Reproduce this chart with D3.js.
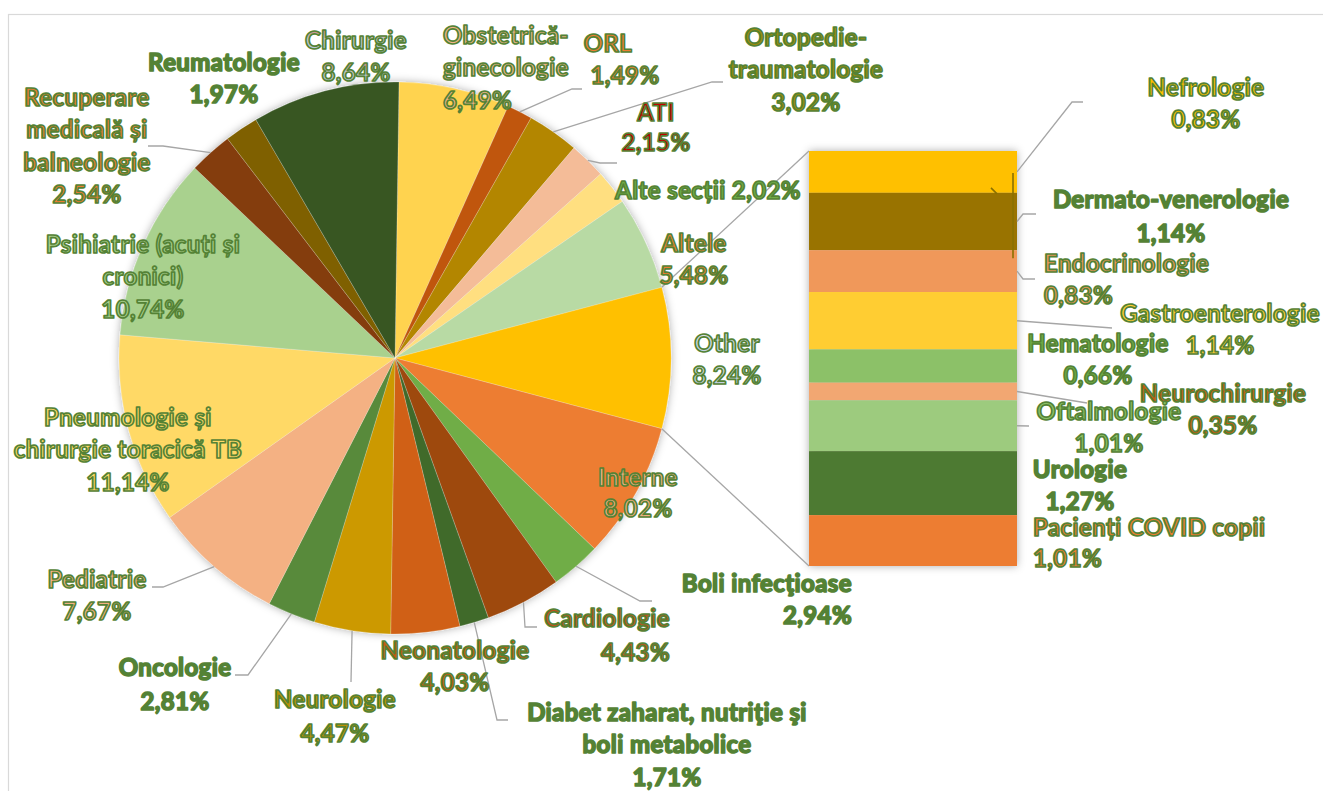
<!DOCTYPE html>
<html><head><meta charset="utf-8">
<script src="https://cdn.jsdelivr.net/npm/d3@7"></script>
<style>
html,body{margin:0;padding:0;background:#fff;}
svg{display:block;}
</style></head>
<body>
<svg id="chart" width="1323" height="791"></svg>
<script>
// ---- DATA ----
const pieCategories = ["Obstetrică-ginecologie","ORL","Ortopedie-traumatologie","ATI","Alte secții","Altele","Other","Interne","Boli infecţioase","Cardiologie","Diabet zaharat, nutriţie şi boli metabolice","Neonatologie","Neurologie","Oncologie","Pediatrie","Pneumologie și chirurgie toracică TB","Psihiatrie (acuți și cronici)","Recuperare medicală și balneologie","Reumatologie","Chirurgie"];
const pieValues = [6.49,1.49,3.02,2.15,2.02,5.48,8.24,8.02,2.94,4.43,1.71,4.03,4.47,2.81,7.67,11.14,10.74,2.54,1.97,8.64];
const pieLabelsText = ["6,49%","1,49%","3,02%","2,15%","2,02%","5,48%","8,24%","8,02%","2,94%","4,43%","1,71%","4,03%","4,47%","2,81%","7,67%","11,14%","10,74%","2,54%","1,97%","8,64%"];
const pieColors = ["#FFD34F","#C0570F","#B38600","#F4BC98","#FFDF80","#B8DAA4","#FFC000","#ED7D31","#70AD47","#9E480E","#416A2C","#D06012","#CC9900","#588A3A","#F4B183","#FFD966","#A9D18E","#843C0C","#7F6000","#375623"];
const pieLabelFills = ["#F0B488","#ED7D31","#9C8A0C","#C00000","#70AD47","#ED7D31","url(#gradOther)","#F4B183","#548235","#C0501E","#548235","#C55A11","#BF9000","#548235","#F4B183","#FFD966","#A9D18E","#ED7D31","#548235","url(#gradChir)"];

const barCategories = ["Nefrologie","Dermato-venerologie","Endocrinologie","Gastroenterologie","Hematologie","Neurochirurgie","Oftalmologie","Urologie","Pacienți COVID copii"];
const barValues = [0.83,1.14,0.83,1.14,0.66,0.35,1.01,1.27,1.01];
const barLabelsText = ["0,83%","1,14%","0,83%","1,14%","0,66%","0,35%","1,01%","1,27%","1,01%"];
const barColors = ["#FFC000","#997300","#F0985A","#FFCD33","#8CC168","#F2A772","#9DCB7E","#4E7A30","#ED7D31"];
const barLabelFills = ["#FFC000","#548235","#F0985A","#FFCD33","#70AD47","#C55A11","#8CC168","#548235","#ED7D31"];
const otherCategory = "Other";

// ---- LAYOUT (positions only) ----
const pieLayout = {
  "Obstetrică-ginecologie": {lines:["Obstetrică-","ginecologie"], x:443, y:35, anchor:"start"},
  "ORL": {lines:["ORL"], xs:[608,625], y:43, leader:[[572,89],[582,89]]},
  "Ortopedie-traumatologie": {lines:["Ortopedie-","traumatologie"], x:806, y:37, leader:[[712,82],[723,82]]},
  "ATI": {lines:["ATI"], x:656, y:112, gap:30, leader:[[600,163],[617,163]]},
  "Alte secții": {lines:["Alte secții"], x:708, y:190, single:true},
  "Altele": {lines:["Altele"], x:694, y:243},
  "Other": {lines:["Other"], x:727, y:343},
  "Interne": {lines:["Interne"], x:638, y:477, gap:31},
  "Boli infecţioase": {lines:["Boli infecţioase"], x:852, y:583, anchor:"end", leader:[[640,601],[652,601]]},
  "Cardiologie": {lines:["Cardiologie"], x:670, y:618, anchor:"end", gap:34, leader:[[525,627],[537,627]]},
  "Diabet zaharat, nutriţie şi boli metabolice": {lines:["Diabet zaharat, nutriţie şi","boli metabolice"], x:667, y:712, leader:[[497,720],[508,720]]},
  "Neonatologie": {lines:["Neonatologie"], x:455, y:650},
  "Neurologie": {lines:["Neurologie"], x:335, y:699, gap:34, leader:[[351,682]]},
  "Oncologie": {lines:["Oncologie"], x:175, y:667, gap:34, leader:[[248,675],[235,675]]},
  "Pediatrie": {lines:["Pediatrie"], x:97, y:579, leader:[[163,587],[152,587]]},
  "Pneumologie și chirurgie toracică TB": {lines:["Pneumologie și","chirurgie toracică TB"], x:128, y:417},
  "Psihiatrie (acuți și cronici)": {lines:["Psihiatrie (acuți și","cronici)"], x:143, y:244},
  "Recuperare medicală și balneologie": {lines:["Recuperare","medicală și","balneologie"], x:87, y:97, leader:[[163,146],[148,146]]},
  "Reumatologie": {lines:["Reumatologie"], x:224, y:62},
  "Chirurgie": {lines:["Chirurgie"], x:356, y:40}
};
const barLayout = {
  "Nefrologie": {lines:["Nefrologie"], x:1206, y:87, leader:[[1072,102],[1083,102]]},
  "Dermato-venerologie": {lines:["Dermato-venerologie"], x:1171, y:199, gap:34, leader:[[1023,214],[1036,214]]},
  "Endocrinologie": {lines:["Endocrinologie"], x:1044, y:263, anchor:"start", leader:[[1023,279],[1035,279]]},
  "Gastroenterologie": {lines:["Gastroenterologie"], x:1220, y:313, leader:[[1112,328]]},
  "Hematologie": {lines:["Hematologie"], x:1098, y:343},
  "Neurochirurgie": {lines:["Neurochirurgie"], x:1223, y:393, leader:[[1087,403]]},
  "Oftalmologie": {lines:["Oftalmologie"], x:1109, y:411, leader:[[1029,426]]},
  "Urologie": {lines:["Urologie"], x:1080, y:469},
  "Pacienți COVID copii": {lines:["Pacienți COVID copii"], x:1033, y:527, gap:31, anchor:"start"}
};

const cx = 395, cy = 358, R = 276;
const barX0 = 809, barX1 = 1017, barY0 = 151, barY1 = 566;

const svg = d3.select("#chart");
const defs = svg.append("defs");
const f = defs.append("filter").attr("id","shadow").attr("x","-10%").attr("y","-10%").attr("width","120%").attr("height","120%");
f.append("feDropShadow").attr("dx",0).attr("dy",0).attr("stdDeviation",4).attr("flood-color","#000").attr("flood-opacity",0.32);
const g1 = defs.append("linearGradient").attr("id","gradChir").attr("x1",0).attr("y1",0).attr("x2",0).attr("y2",1);
g1.append("stop").attr("offset","0%").attr("stop-color","#D0605A");
g1.append("stop").attr("offset","50%").attr("stop-color","#C8C8C8");
g1.append("stop").attr("offset","100%").attr("stop-color","#A9C4DE");
const g2 = defs.append("linearGradient").attr("id","gradOther").attr("x1",0).attr("y1",0).attr("x2",0).attr("y2",1);
g2.append("stop").attr("offset","0%").attr("stop-color","#E6E6E6");
g2.append("stop").attr("offset","100%").attr("stop-color","#B8CCE0");

// chart border
svg.append("rect").attr("x",8.5).attr("y",14.5).attr("width",1400).attr("height",900)
  .attr("fill","none").attr("stroke","#D9D9D9").attr("stroke-width",1.2);

// pie rotation: Excel centres the "Other" slice at 3 o'clock
const total = d3.sum(pieValues);
const idxOther = pieCategories.indexOf(otherCategory);
const before = d3.sum(pieValues.slice(0, idxOther));
const midFrac = (before + pieValues[idxOther]/2)/total;
const rot = Math.PI/2 - midFrac*2*Math.PI;

const pie = d3.pie().sort(null).value(d=>d.v).startAngle(rot).endAngle(rot+2*Math.PI);
const pieData = pieCategories.map((c,i)=>({name:c, v:pieValues[i], color:pieColors[i], pct:pieLabelsText[i], fill:pieLabelFills[i]}));
const arcs = pie(pieData);
const arc = d3.arc().innerRadius(0).outerRadius(R);
const pt = (a, r) => [cx + r*Math.sin(a), cy - r*Math.cos(a)];

const gPie = svg.append("g").attr("transform",`translate(${cx},${cy})`).attr("filter","url(#shadow)");
gPie.selectAll("path").data(arcs).join("path")
  .attr("d",arc).attr("fill",d=>d.data.color)
  .attr("stroke","#ffffff").attr("stroke-opacity",0.35).attr("stroke-width",0.6);

// bar
const yScale = d3.scaleLinear().domain([0, d3.sum(barValues)]).range([barY0, barY1]);
const cum = [0]; barValues.forEach((v,i)=>cum.push(cum[i]+v));
const barData = barCategories.map((c,i)=>({name:c, v:barValues[i], y0:cum[i], y1:cum[i+1], color:barColors[i], pct:barLabelsText[i], fill:barLabelFills[i]}));
const gBar = svg.append("g").attr("filter","url(#shadow)");
gBar.selectAll("rect").data(barData).join("rect")
  .attr("x",barX0).attr("width",barX1-barX0)
  .attr("y",d=>yScale(d.y0)).attr("height",d=>yScale(d.y1)-yScale(d.y0))
  .attr("fill",d=>d.color);

// series lines
const oArc = arcs[idxOther];
const lineG = svg.append("g").attr("stroke","#A6A6A6").attr("stroke-width",1.3).attr("fill","none");
const pA = pt(oArc.startAngle, R), pB = pt(oArc.endAngle, R);
lineG.append("line").attr("x1",pA[0]).attr("y1",pA[1]).attr("x2",barX0).attr("y2",yScale(0));
lineG.append("line").attr("x1",pB[0]).attr("y1",pB[1]).attr("x2",barX0).attr("y2",yScale(d3.sum(barValues)));

// leaders
const lineGen = d3.line();
arcs.forEach(a=>{
  const L = pieLayout[a.data.name];
  if (L && L.leader) {
    const s = pt((a.startAngle+a.endAngle)/2, R);
    lineG.append("path").attr("d", lineGen([s, ...L.leader]));
  }
});
barData.forEach(d=>{
  const L = barLayout[d.name];
  if (L && L.leader) {
    const s = [barX1, (yScale(d.y0)+yScale(d.y1))/2];
    lineG.append("path").attr("d", lineGen([s, ...L.leader]));
  }
});
// small olive marks next to Nefrologie segment (as in original)
const nefMid = (yScale(barData[0].y0)+yScale(barData[0].y1))/2;
svg.append("line").attr("x1",barX1-4).attr("x2",barX1-4).attr("y1",nefMid+1).attr("y2",yScale(barData[2].y0)+8)
  .attr("stroke","#8A7000").attr("stroke-width",1.6);
svg.append("line").attr("x1",barX1-26).attr("x2",barX1-20).attr("y1",nefMid+16).attr("y2",nefMid+22)
  .attr("stroke","#8A7000").attr("stroke-width",1.6);

// labels
function drawLabel(L, pct, fill) {
  const gap = L.gap || 32.5;
  const lines = L.single ? [L.lines[0] + " " + pct] : [...L.lines, pct];
  const t = svg.append("g");
  lines.forEach((ln,i)=>{
    const x = L.xs ? L.xs[i] : L.x;
    t.append("text").attr("x",x).attr("y",L.y + i*gap).attr("dy","0.36em")
      .attr("text-anchor",L.anchor||"middle")
      .attr("font-family","Lato, 'Open Sans', sans-serif").attr("font-weight",700).attr("font-size",24)
      .attr("letter-spacing",0.4)
      .attr("fill",fill).attr("stroke","#548235").attr("stroke-width",1.7).attr("stroke-linejoin","round")
      .text(ln);
  });
}
arcs.forEach(a=>{ const L = pieLayout[a.data.name]; if (L) drawLabel(L, a.data.pct, a.data.fill); });
barData.forEach(d=>{ const L = barLayout[d.name]; if (L) drawLabel(L, d.pct, d.fill); });
</script>
</body></html>
